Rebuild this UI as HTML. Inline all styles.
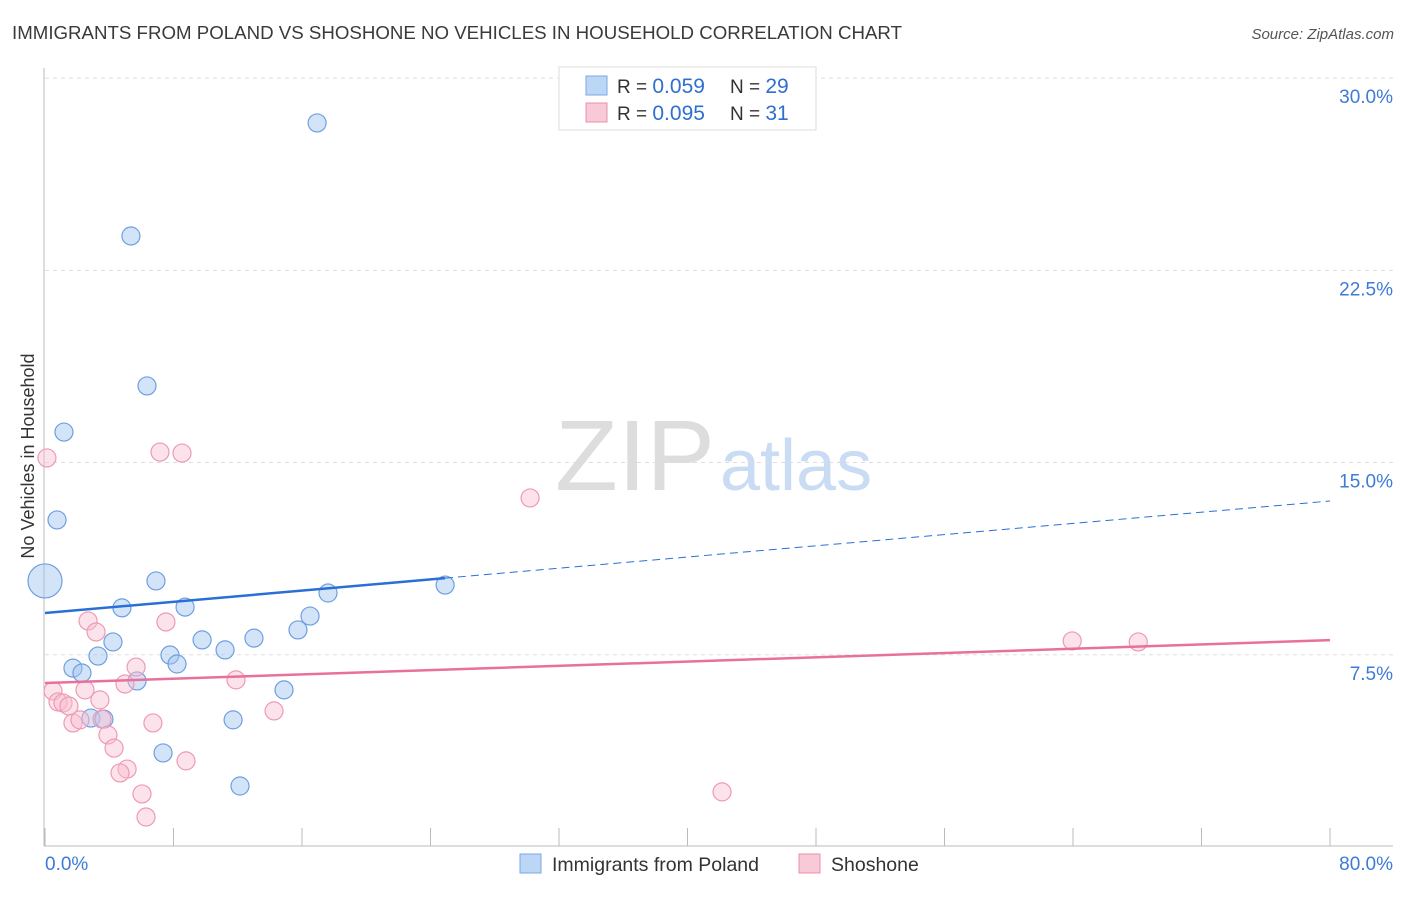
<!DOCTYPE html>
<html><head><meta charset="utf-8"><style>
body{margin:0;background:#fff;font-family:"Liberation Sans",sans-serif}
svg text{font-family:"Liberation Sans",sans-serif}
</style></head><body>
<svg id="c" width="1406" height="892">
<text x="12" y="39" font-size="18.5" fill="#3a3a3a" textLength="890" lengthAdjust="spacingAndGlyphs">IMMIGRANTS FROM POLAND VS SHOSHONE NO VEHICLES IN HOUSEHOLD CORRELATION CHART</text>
<text x="1394" y="39" font-size="15" fill="#555" font-style="italic" text-anchor="end">Source: ZipAtlas.com</text>
<text x="555" y="490" font-size="100" fill="#ddd" font-family="Liberation Serif" textLength="160" lengthAdjust="spacingAndGlyphs">ZIP</text>
<text x="720" y="490" font-size="72" fill="#c9dcf3">atlas</text>
<text transform="translate(34,456) rotate(-90)" font-size="18" fill="#333" text-anchor="middle">No Vehicles in Household</text>
<g id="grid"></g><g id="pts"></g><g id="lines"></g>
<g>
<rect x="559" y="67" width="257" height="63" fill="#fff" stroke="#ddd"/>
<rect x="586" y="76" width="21" height="19" fill="#bcd6f5" stroke="#7aa8e6"/>
<rect x="586" y="103" width="21" height="19" fill="#f8c9d7" stroke="#ec90ac"/>
<text x="617" y="93" font-size="19" fill="#333">R = <tspan fill="#2f6fd0" font-size="21">0.059</tspan></text>
<text x="730" y="93" font-size="19" fill="#333">N = <tspan fill="#2f6fd0" font-size="21">29</tspan></text>
<text x="617" y="120" font-size="19" fill="#333">R = <tspan fill="#2f6fd0" font-size="21">0.095</tspan></text>
<text x="730" y="120" font-size="19" fill="#333">N = <tspan fill="#2f6fd0" font-size="21"> 31</tspan></text>
</g>
<g>
<rect x="520" y="854" width="21" height="19" fill="#bcd6f5" stroke="#7aa8e6"/>
<text x="552" y="871" font-size="19.5" fill="#333">Immigrants from Poland</text>
<rect x="799" y="854" width="21" height="19" fill="#f8c9d7" stroke="#ec90ac"/>
<text x="831" y="871" font-size="19.5" fill="#333">Shoshone</text>
</g>
<text x="45" y="870" font-size="19" fill="#3d7bd6">0.0%</text>
<text x="1393" y="870" font-size="19" fill="#3d7bd6" text-anchor="end">80.0%</text>
</svg>
<script>
const yTicks=[7.5,15,22.5,30];
const yTickLabels=["7.5%","15.0%","22.5%","30.0%"];
const xTicks=[0,8,16,24,32,40,48,56,64,72,80];
const polandX=[16.94,5.35,6.35,1.18,0.75,0,6.91,4.79,8.72,17.62,16.50,15.75,4.23,9.78,13.01,11.21,3.30,7.78,8.22,1.74,2.30,5.73,14.88,2.86,3.67,11.71,7.35,12.14,24.91];
const polandY=[28.25,23.84,17.99,16.19,12.76,10.38,10.38,9.33,9.36,9.91,9.01,8.47,8.00,8.08,8.15,7.69,7.45,7.49,7.14,6.98,6.79,6.48,6.13,5.03,4.99,4.96,3.67,2.38,10.22];
const shoshoneX=[0.12,7.16,8.53,30.20,63.95,68.06,2.68,7.53,3.18,5.67,4.98,11.89,0.50,2.49,3.42,0.81,1.12,1.49,14.26,1.74,2.18,3.55,6.72,3.92,4.30,8.78,5.11,4.67,6.04,42.15,6.29];
const shoshoneY=[15.18,15.41,15.37,13.62,8.04,8.00,8.82,8.78,8.39,7.02,6.36,6.52,6.09,6.13,5.74,5.66,5.62,5.50,5.31,4.84,4.96,4.99,4.84,4.37,3.86,3.36,3.04,2.89,2.07,2.15,1.17];
const polandTrend=[9.13,13.50];
const shoshoneTrend=[6.40,8.07];
const polandSolidEnd=24.9;
const NS="http://www.w3.org/2000/svg";
const X=v=>45+v*(1285/80);
const Y=v=>847-v*25.63;
function mk(t,a,p){const e=document.createElementNS(NS,t);for(const k in a)e.setAttribute(k,a[k]);p.appendChild(e);return e;}
const g=document.getElementById('grid');
yTicks.forEach((t,i)=>{
 const l=mk('line',{x1:45,x2:1393,y1:Y(t),y2:Y(t),stroke:'#ddd','stroke-dasharray':'4,4'},g);
 
 
 const tx=mk('text',{x:1393,y:Y(t)+25,'font-size':19,fill:'#3d7bd6','text-anchor':'end'},g);
 tx.textContent=yTickLabels[i];
 
 
});
const ax=mk('line',{x1:44,x2:44,y1:68,y2:846,stroke:'#bbb'},g);


const bx=mk('line',{x1:44,x2:1393,y1:846,y2:846,stroke:'#bbb'},g);


xTicks.forEach(t=>{
 const l=mk('line',{x1:X(t),x2:X(t),y1:828,y2:846,stroke:'#bbb'},g);
 
 
});
const p=document.getElementById('pts');
polandX.forEach((v,i)=>{
 const c=mk('circle',{cx:X(v),cy:Y(polandY[i]),r:i==5?17:9,fill:'rgba(160,196,240,0.45)',stroke:'#6e9fe0','stroke-width':1.2},p);
 
 
});
shoshoneX.forEach((v,i)=>{
 const c=mk('circle',{cx:X(v),cy:Y(shoshoneY[i]),r:9,fill:'rgba(248,190,208,0.45)',stroke:'#ee9ab4','stroke-width':1.2},p);
 
 
});
const L=document.getElementById('lines');
const py=x=>polandTrend[0]+(polandTrend[1]-polandTrend[0])*x/80;
const l1=mk('line',{x1:X(0),y1:Y(py(0)),x2:X(polandSolidEnd),y2:Y(py(polandSolidEnd)),stroke:'#2a6fd6','stroke-width':2.5},L);


const l2=mk('line',{x1:X(polandSolidEnd),y1:Y(py(polandSolidEnd)),x2:X(80),y2:Y(py(80)),stroke:'#2a6fd6','stroke-width':1,'stroke-dasharray':'8,5'},L);


const l3=mk('line',{x1:X(0),y1:Y(shoshoneTrend[0]),x2:X(80),y2:Y(shoshoneTrend[1]),stroke:'#e8709a','stroke-width':2.5},L);


</script>
</body></html>
